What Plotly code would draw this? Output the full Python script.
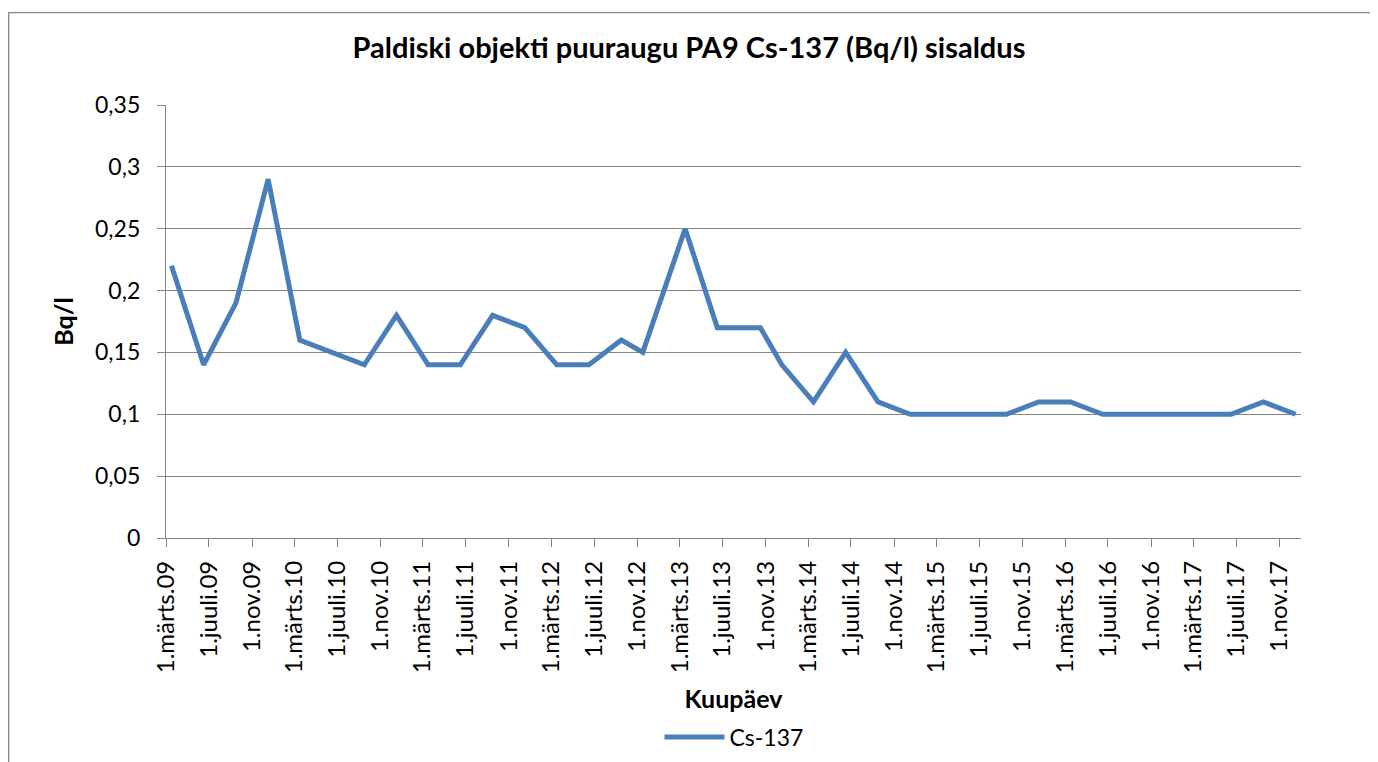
import pandas as pd
import plotly.graph_objects as go

# ---- data ----
sample_months = [
    "2009-03", "2009-06", "2009-09", "2009-12",
    "2010-03", "2010-06", "2010-09", "2010-12",
    "2011-03", "2011-06", "2011-09", "2011-12",
    "2012-03", "2012-06", "2012-09", "2012-11",
    "2013-03", "2013-06", "2013-10", "2013-12",
    "2014-03", "2014-06", "2014-09", "2014-12",
    "2015-03", "2015-06", "2015-09", "2015-12",
    "2016-03", "2016-06", "2016-09", "2016-12",
    "2017-03", "2017-06", "2017-09", "2017-12",
]
cs137 = [
    0.22, 0.14, 0.19, 0.29,
    0.16, 0.15, 0.14, 0.18,
    0.14, 0.14, 0.18, 0.17,
    0.14, 0.14, 0.16, 0.15,
    0.25, 0.17, 0.17, 0.14,
    0.11, 0.15, 0.11, 0.10,
    0.10, 0.10, 0.10, 0.11,
    0.11, 0.10, 0.10, 0.10,
    0.10, 0.10, 0.11, 0.10,
]
tick_dates = [
    "2009-03-01", "2009-07-01", "2009-11-01",
    "2010-03-01", "2010-07-01", "2010-11-01",
    "2011-03-01", "2011-07-01", "2011-11-01",
    "2012-03-01", "2012-07-01", "2012-11-01",
    "2013-03-01", "2013-07-01", "2013-11-01",
    "2014-03-01", "2014-07-01", "2014-11-01",
    "2015-03-01", "2015-07-01", "2015-11-01",
    "2016-03-01", "2016-07-01", "2016-11-01",
    "2017-03-01", "2017-07-01", "2017-11-01",
]
tick_labels = [
    "1.märts.09", "1.juuli.09", "1.nov.09",
    "1.märts.10", "1.juuli.10", "1.nov.10",
    "1.märts.11", "1.juuli.11", "1.nov.11",
    "1.märts.12", "1.juuli.12", "1.nov.12",
    "1.märts.13", "1.juuli.13", "1.nov.13",
    "1.märts.14", "1.juuli.14", "1.nov.14",
    "1.märts.15", "1.juuli.15", "1.nov.15",
    "1.märts.16", "1.juuli.16", "1.nov.16",
    "1.märts.17", "1.juuli.17", "1.nov.17",
]
y_ticks = [0, 0.05, 0.1, 0.15, 0.2, 0.25, 0.3, 0.35]
y_tick_labels = ["0", "0,05", "0,1", "0,15", "0,2", "0,25", "0,3", "0,35"]

# points sit in the middle of their month (date axis, base unit = month)
m_start = pd.to_datetime(sample_months, format="%Y-%m")
m_end = m_start + pd.offsets.MonthBegin(1)
x_vals = m_start + (m_end - m_start) / 2

FONT = "Lato"
GRID = "#868686"
W, H = 1378, 762
ML, MR, MT, MB = 158, 85, 97, 232
PW, PH = W - ML - MR, H - MT - MB

fig = go.Figure()
fig.add_trace(go.Scatter(
    x=x_vals, y=cs137, mode="lines", name="Cs-137",
    line=dict(color="#4a7ebb", width=5),
))

fig.update_layout(
    width=W, height=H,
    margin=dict(l=ML, r=MR, t=MT, b=MB),
    paper_bgcolor="white", plot_bgcolor="white",
    font=dict(family=FONT, size=23, color="black"),
    title=dict(
        text="<b>Paldiski objekti puuraugu PA9 Cs-137 (Bq/l) sisaldus</b>",
        x=681 / W, xref="container", xanchor="center",
        y=1 - 40 / H, yref="container", yanchor="middle",
        font=dict(family=FONT, size=29, color="black"),
    ),
    showlegend=True,
    legend=dict(
        orientation="h", x=726 / W, xref="container", xanchor="center",
        y=1 - 729 / H, yref="container", yanchor="middle",
        font=dict(family=FONT, size=23, color="black"),
        itemwidth=60,
    ),
    xaxis=dict(
        type="date",
        range=["2009-03-01", "2018-01-01"],
        tickmode="array", tickvals=tick_dates, ticktext=tick_labels,
        tickangle=-90, tickfont=dict(size=24),
        ticks="outside", ticklen=8, tickcolor=GRID, tickwidth=1.3,
        showline=True, linecolor=GRID, linewidth=1.3,
        showgrid=False, zeroline=False,
        ticklabelstandoff=4,
        title=dict(text="<b>Kuupäev</b>", standoff=18,
                   font=dict(family=FONT, size=25, color="black")),
        automargin=False,
    ),
    yaxis=dict(
        range=[0, 0.35],
        tickmode="array", tickvals=y_ticks, ticktext=y_tick_labels,
        ticks="outside", ticklen=8, tickcolor=GRID, tickwidth=1.3,
        showline=True, linecolor=GRID, linewidth=1.3,
        showgrid=True, gridcolor=GRID, gridwidth=1.3,
        zeroline=False,
        ticklabelstandoff=12,
        title=dict(text="<b>Bq/l</b>", standoff=14,
                   font=dict(family=FONT, size=25, color="black")),
        automargin=False,
    ),
    shapes=[dict(
        type="rect", xref="paper", yref="paper",
        x0=(0.7 - ML) / PW, x1=1.3,
        y0=-1.0, y1=1 + (MT - 4.7) / PH,
        line=dict(color=GRID, width=1.3), fillcolor="rgba(0,0,0,0)",
        layer="below",
    )],
)

fig.write_html("out.html")
